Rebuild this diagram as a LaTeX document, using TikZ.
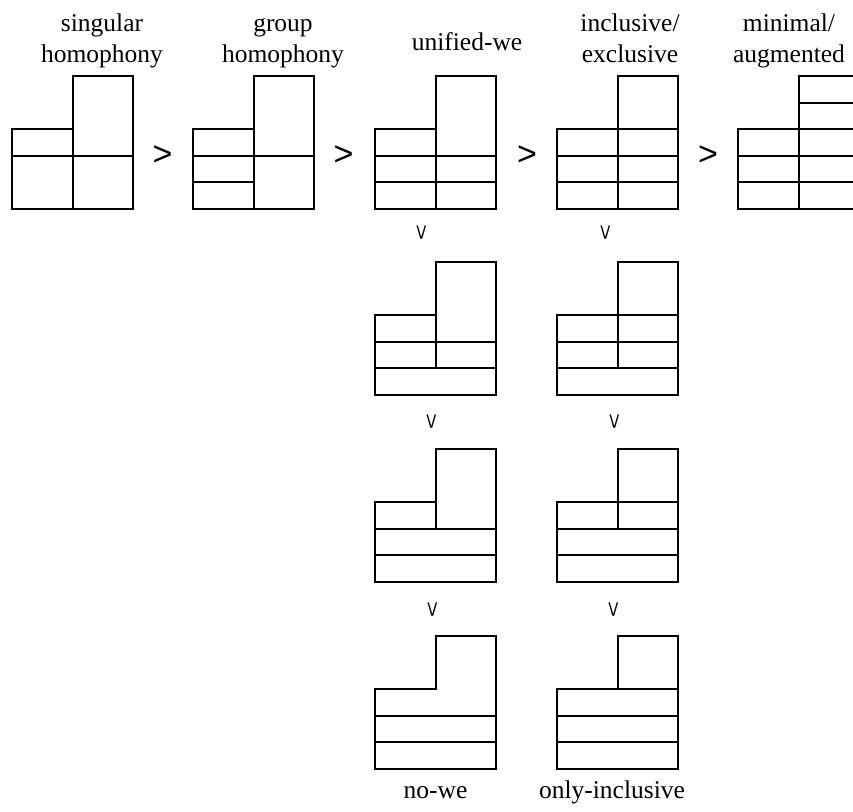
\documentclass[tikz,border=0pt]{standalone}
\usepackage{fontspec}
\setmainfont{Liberation Serif}
\newfontfamily\symfont{Liberation Sans}
\usepackage{graphicx}
\tikzset{
  cellgrid/.style={x=60.5pt,y=-26.6pt,line width=2pt},
  lab/.style={font=\fontsize{25.5}{31}\selectfont, align=center, inner sep=0pt, anchor=base},
  gtsym/.style={font=\symfont\fontsize{34}{34}\selectfont, inner sep=0pt},
}
\newcommand\outlineL{\draw (0,2) -- (1,2) -- (1,0) -- (2,0) -- (2,5) -- (0,5) -- cycle;}
\newcommand\veesym{\rotatebox{-90}{\scalebox{0.81}[0.56]{>}}}
\begin{document}
\begin{tikzpicture}[x=1pt,y=-1pt]
\useasboundingbox (0,0) rectangle (853,811);
\clip (0,0) rectangle (853,811);
% top row
\begin{scope}[shift={(12,76)},cellgrid]
  \outlineL
  \draw (1,2) -- (1,5) (0,3) -- (2,3);
\end{scope}
\begin{scope}[shift={(193,76)},cellgrid]
  \outlineL
  \draw (1,2) -- (1,5) (0,3) -- (2,3) (0,4) -- (1,4);
\end{scope}
\begin{scope}[shift={(375,76)},cellgrid]
  \outlineL
  \draw (1,2) -- (1,5) (0,3) -- (2,3) (0,4) -- (2,4);
\end{scope}
\begin{scope}[shift={(557,76)},cellgrid]
  \outlineL
  \draw (1,2) -- (1,5) (1,2) -- (2,2) (0,3) -- (2,3) (0,4) -- (2,4);
\end{scope}
\begin{scope}[shift={(738,76)},cellgrid]
  \outlineL
  \draw (1,2) -- (1,5) (1,1) -- (2,1) (1,2) -- (2,2) (0,3) -- (2,3) (0,4) -- (2,4);
\end{scope}
% second row
\begin{scope}[shift={(375,262)},cellgrid]
  \outlineL
  \draw (1,2) -- (1,4) (0,3) -- (2,3) (0,4) -- (2,4);
\end{scope}
\begin{scope}[shift={(557,262)},cellgrid]
  \outlineL
  \draw (1,2) -- (1,4) (1,2) -- (2,2) (0,3) -- (2,3) (0,4) -- (2,4);
\end{scope}
% third row
\begin{scope}[shift={(375,449)},cellgrid]
  \outlineL
  \draw (1,2) -- (1,3) (0,3) -- (2,3) (0,4) -- (2,4);
\end{scope}
\begin{scope}[shift={(557,449)},cellgrid]
  \outlineL
  \draw (1,2) -- (1,3) (1,2) -- (2,2) (0,3) -- (2,3) (0,4) -- (2,4);
\end{scope}
% fourth row
\begin{scope}[shift={(375,636)},cellgrid]
  \outlineL
  \draw (0,3) -- (2,3) (0,4) -- (2,4);
\end{scope}
\begin{scope}[shift={(557,636)},cellgrid]
  \outlineL
  \draw (1,2) -- (2,2) (0,3) -- (2,3) (0,4) -- (2,4);
\end{scope}
% labels (base anchor = baseline of last line)
\node[lab] (lsing) at (102,62) {singular\\homophony};
\node[lab] (lgroup) at (283,62) {group\\homophony};
\node[lab] (lunif) at (467,50) {unified-we};
\node[lab] (lincl) at (630,62) {inclusive/\\exclusive};
\node[lab] (lmin) at (789,62) {minimal/\\augmented};
\node[lab] (lnowe) at (435.5,798) {no-we};
\node[lab] (lonly) at (612,798) {only-inclusive};
% relations
\node[gtsym] (g1) at (162.5,155.5) {>};
\node[gtsym] (g2) at (343.5,155.5) {>};
\node[gtsym] (g3) at (527,155.5) {>};
\node[gtsym] (g4) at (708,155.5) {>};
\node[gtsym] (v1) at (421,233) {\veesym};
\node[gtsym] (v2) at (605,233) {\veesym};
\node[gtsym] (v3) at (431,422) {\veesym};
\node[gtsym] (v4) at (614,422) {\veesym};
\node[gtsym] (v5) at (432,610) {\veesym};
\node[gtsym] (v6) at (613,610) {\veesym};
\end{tikzpicture}
\end{document}
